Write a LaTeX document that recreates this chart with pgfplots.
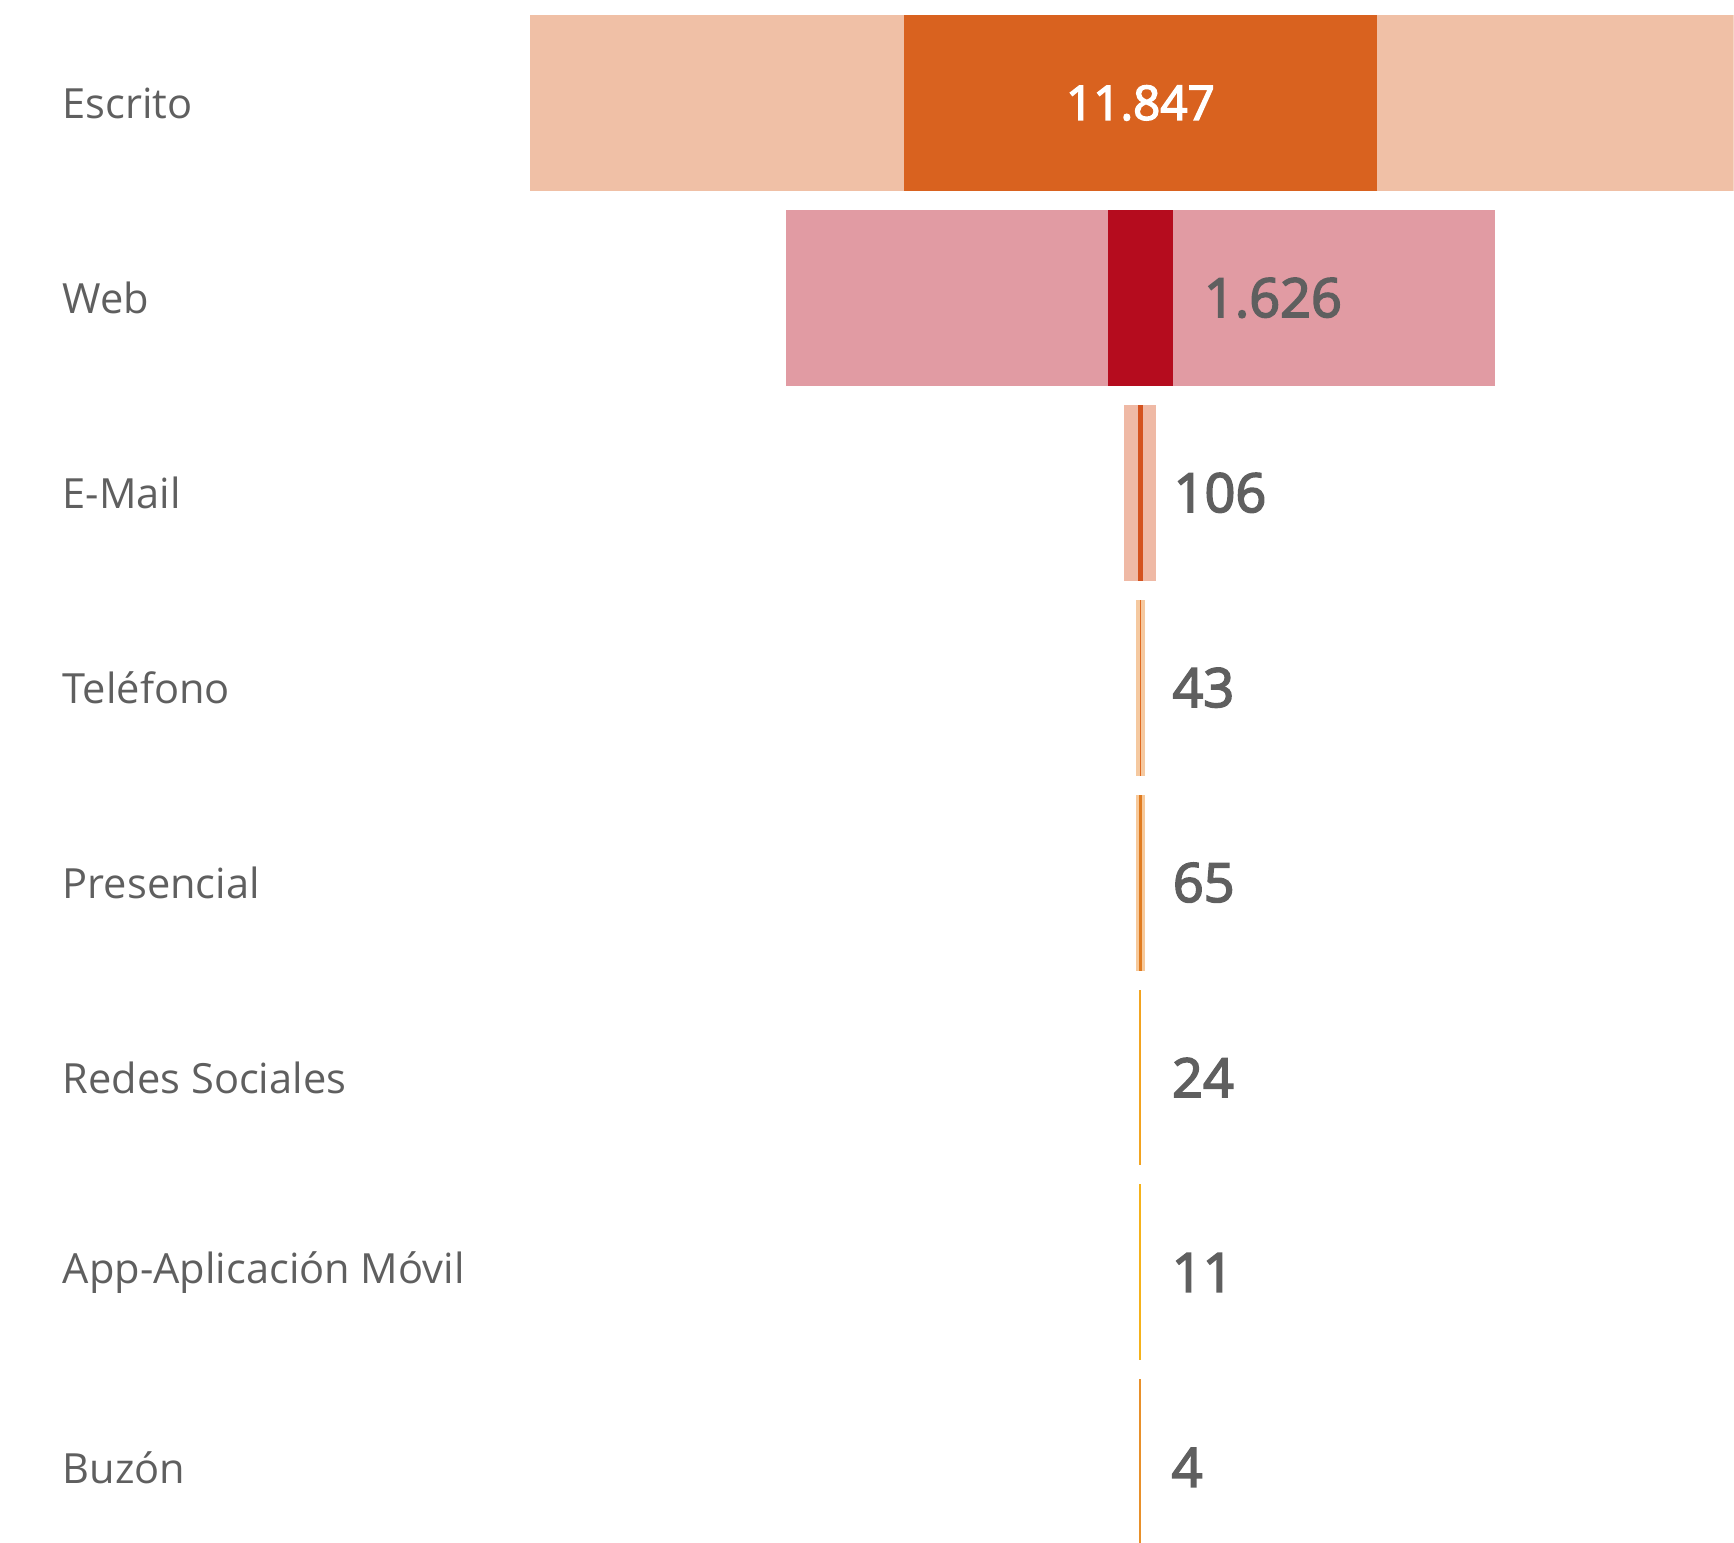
\documentclass[border=0pt]{standalone}
\usepackage{pgfplots}
\usepackage{pgfplotstable}
\usepackage{fontspec}
\pgfplotsset{compat=1.18}
\setmainfont{Open Sans}
\newfontfamily\sbfam[FakeBold=3]{Open Sans}
\definecolor{textgray}{HTML}{5F5F5F}
\definecolor{light1}{HTML}{F0C0A6}
\definecolor{dark1}{HTML}{D9621F}
\definecolor{light2}{HTML}{E19BA3}
\definecolor{dark2}{HTML}{B50C1E}
\definecolor{light3}{HTML}{EFB9A5}
\definecolor{dark3}{HTML}{D4521E}
\definecolor{light4}{HTML}{F5C9A0}
\definecolor{dark4}{HTML}{E0691F}
\definecolor{light5}{HTML}{F7C99A}
\definecolor{dark5}{HTML}{E07B20}
\definecolor{light6}{HTML}{F2A622}
\definecolor{dark6}{HTML}{F2A21E}
\definecolor{light7}{HTML}{F5B21A}
\definecolor{dark7}{HTML}{F5B21A}
\definecolor{light8}{HTML}{E8902A}
\definecolor{dark8}{HTML}{E8902A}
\newcommand\labfont{\fontsize{10.4pt}{12pt}\selectfont}
\newcommand\valfont{\fontsize{13.5pt}{15pt}\sbfam\selectfont}
\newcommand\valfontb{\fontsize{11.9pt}{14pt}\sbfam\selectfont}
\pgfplotstableread{
row light dark label
1 30580 11847 11.847
2 17780 1626 1.626
3 801 106 106
4 218 43 43
5 215 65 65
6 50 24 24
7 50 11 11
8 50 4 4
}\data
\begin{document}
\begin{tikzpicture}
\begin{axis}[
  scale only axis, width=433.5pt, height=385.75pt,
  xmin=-28566, xmax=14865, ymin=0.4718, ymax=8.3846, y dir=reverse,
  axis line style={draw=none}, xtick=\empty,
  ytick={1,...,8},
  yticklabels={Escrito, Web, E-Mail, Teléfono, Presencial, Redes Sociales, App-Aplicación Móvil, Buzón},
  major tick length=0pt,
  yticklabel style={anchor=west, xshift=15.4pt, text=textgray, font=\labfont, inner sep=0pt},
  xbar, bar shift=0pt, bar width=0.9026,
  clip=true,
]
\pgfplotsinvokeforeach{1,...,8}{
  \addplot[fill=light#1, draw=none, y filter/.expression={abs(y-#1)<0.1 ? y : nan}]
    table[x expr=\thisrow{light}/2, y=row]{\data};
  \addplot[fill=light#1, draw=none, y filter/.expression={abs(y-#1)<0.1 ? y : nan}]
    table[x expr=-\thisrow{light}/2, y=row]{\data};
  \addplot[fill=dark#1, draw=none, y filter/.expression={abs(y-#1)<0.1 ? y : nan}]
    table[x expr=\thisrow{dark}/2, y=row]{\data};
  \addplot[fill=dark#1, draw=none, y filter/.expression={abs(y-#1)<0.1 ? y : nan}]
    table[x expr=-\thisrow{dark}/2, y=row]{\data};
}
\addplot[draw=none, fill=none, nodes near coords, point meta=explicit symbolic,
  every node near coord/.style={anchor=west, inner sep=0pt, xshift=7.6pt, text=textgray, font=\valfont},
  y filter/.expression={y>1.5 ? y : nan}]
  table[x expr=\thisrow{dark}/2, y=row, meta=label]{\data};
\addplot[draw=none, fill=none, nodes near coords, point meta=explicit symbolic,
  every node near coord/.style={anchor=center, inner sep=0pt, text=white, font=\valfontb},
  y filter/.expression={y<1.5 ? y : nan}]
  table[x expr=0, y=row, meta=label]{\data};
\end{axis}
\end{tikzpicture}
\end{document}
